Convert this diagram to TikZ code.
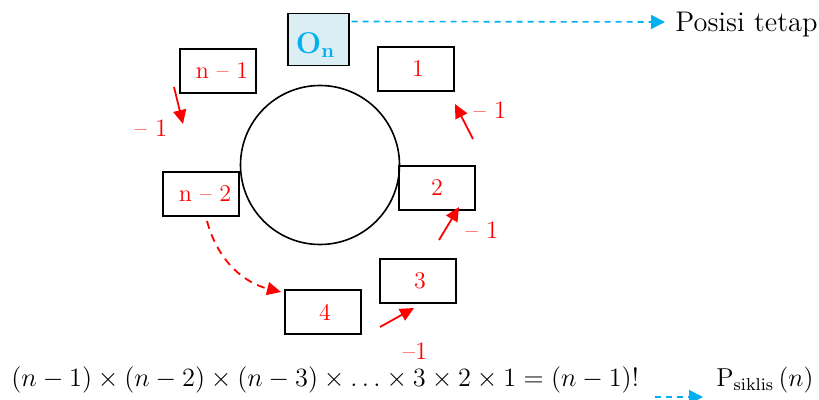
\documentclass[tikz,border=0pt]{standalone}
\usetikzlibrary{arrows.meta}
\definecolor{myred}{RGB}{255,0,0}
\definecolor{mycyan}{RGB}{0,176,240}
\definecolor{myfill}{RGB}{218,238,243}
\begin{document}
\begin{tikzpicture}[x=0.5pt,y=-0.5pt,
  slot/.style={draw=black,line width=0.7pt,minimum width=38pt,minimum height=22pt,inner sep=0pt,text=myred,font=\fontsize{12}{14}\selectfont},
  redarrow/.style={draw=myred,line width=0.9pt,-{Triangle[length=7pt,width=6.5pt]}},
  cyanarrow/.style={draw=mycyan,line width=0.8pt,dashed,dash pattern=on 3pt off 2.5pt,-{Triangle[length=7pt,width=7pt]}},
  lbl/.style={text=myred,font=\fontsize{12.5}{14}\selectfont,inner sep=0pt},
]
\useasboundingbox (0,0) rectangle (819,400);
% central circle
\node[draw=black,line width=0.8pt,circle,minimum size=79.5pt,inner sep=0pt] (c) at (320,165) {};
% fixed position
\node[draw=black,line width=0.8pt,fill=myfill,minimum width=30.5pt,minimum height=26pt,inner sep=0pt] (on) at (318.2,39.5) {};
\node[text=mycyan,font=\fontsize{15}{17}\selectfont\bfseries,inner sep=0pt] (ontext) at (315,45) {O\raisebox{-0.35ex}{\fontsize{10}{11}\selectfont n}};
% boxes
\node[slot] (bn1) at (218,71) {\hspace{4pt}n – 1};
\node[slot] (b1) at (416,69) {\hspace{2pt}1};
\node[slot] (bn2) at (201,194) {\hspace{4pt}n – 2};
\node[slot] (b2) at (437,188) {2};
\node[slot] (b3) at (418,281) {\hspace{2pt}3};
\node[slot] (b4) at (323,312) {\hspace{2pt}4};
% fixed position arrow
\coordinate (pt) at (665,22);
\draw[cyanarrow] ([xshift=1pt,yshift=-4.4pt]on.north east) -- (pt);
\node[anchor=west,font=\fontsize{14.2}{17}\selectfont,inner sep=0pt] (posisi) at (675,25) {Posisi tetap};
% red arrows
\coordinate (a1s) at (174,87);  \coordinate (a1e) at (183,124);
\coordinate (a2s) at (473,139); \coordinate (a2e) at (455,104);
\coordinate (a3s) at (439,240); \coordinate (a3e) at (459,207);
\coordinate (a4s) at (380,327); \coordinate (a4e) at (414,308);
\draw[redarrow] (a1s) -- (a1e);
\draw[redarrow] (a2s) -- (a2e);
\draw[redarrow] (a3s) -- (a3e);
\draw[redarrow] (a4s) -- (a4e);
\node[lbl] (l1) at (151,128) {– 1};
\node[lbl] (l2) at (490,110) {– 1};
\node[lbl] (l3) at (482,230) {– 1};
\node[lbl] (l4) at (415,351) {–1};
% dashed curve from n-2 to 4
\coordinate (ds) at (207,221);
\coordinate (de) at (281,292);
\draw[draw=myred,line width=0.9pt,dashed,dash pattern=on 4pt off 3pt,-{Triangle[length=7pt,width=6.5pt]}] (ds) .. controls (218,262) and (245,283) .. (de);
% bottom formula
\node[anchor=west,inner sep=0pt,font=\fontsize{12}{14}\selectfont] (eq) at (11,380) {\scalebox{1.1}{$(n-1)\times(n-2)\times(n-3)\times\ldots\times 3\times 2\times 1=(n-1)!$}};
\coordinate (ps) at (655,397);
\coordinate (pe) at (703,397);
\draw[cyanarrow] (ps) -- (pe);
\node[anchor=west,inner sep=0pt,font=\fontsize{12}{14}\selectfont] (psik) at (716,380) {\scalebox{1.08}{$\mathrm{P}_{\mathrm{siklis}}\,(n)$}};
\end{tikzpicture}
\end{document}
